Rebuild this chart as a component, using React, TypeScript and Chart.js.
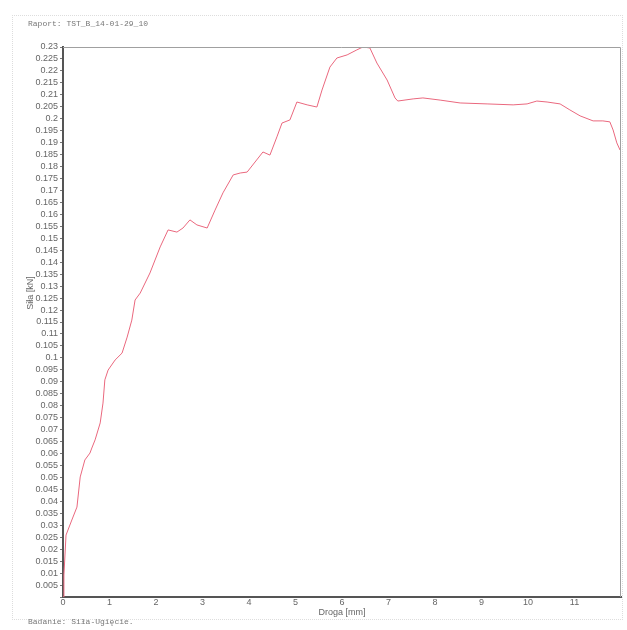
import { useEffect, useRef } from 'react';
import { Chart, registerables } from 'chart.js';

Chart.register(...registerables);

// Displacement [mm] and force [kN] samples of the test run
const distance = [
  0, 0.02, 0.065, 0.19, 0.3, 0.37, 0.47, 0.58, 0.62, 0.69, 0.8, 0.86, 0.9, 0.97,
  1.12, 1.27, 1.38, 1.48, 1.55, 1.66, 1.87, 2.09, 2.26, 2.45, 2.58, 2.73, 2.88,
  3.1, 3.27, 3.44, 3.66, 3.81, 3.96, 4.13, 4.3, 4.45, 4.6, 4.71, 4.88, 5.03,
  5.25, 5.46, 5.57, 5.74, 5.89, 6.11, 6.32, 6.45, 6.6, 6.75, 6.97, 7.14, 7.2,
  7.53, 7.74, 8.11, 8.54, 9.12, 9.68, 9.98, 10.19, 10.41, 10.69, 10.9, 11.12,
  11.4, 11.61, 11.76, 11.83, 11.91, 11.98,
];
const force = [
  0, 0.0092, 0.0259, 0.0322, 0.0376, 0.0502, 0.0573, 0.0602, 0.0623, 0.0657,
  0.0728, 0.0811, 0.0908, 0.0949, 0.0991, 0.102, 0.1087, 0.1158, 0.1242, 0.1271,
  0.1355, 0.1464, 0.1535, 0.1526, 0.1543, 0.1577, 0.1556, 0.1543, 0.1618, 0.169,
  0.1765, 0.1773, 0.1777, 0.1819, 0.1861, 0.1848, 0.1924, 0.1982, 0.1995, 0.207,
  0.2058, 0.2049, 0.212, 0.2216, 0.2254, 0.2267, 0.2288, 0.23, 0.2296, 0.2233,
  0.2162, 0.2087, 0.2074, 0.2083, 0.2087, 0.2078, 0.2066, 0.2062, 0.2058, 0.2062,
  0.2074, 0.207, 0.2062, 0.2037, 0.2012, 0.1991, 0.1991, 0.1987, 0.1953, 0.1899,
  0.1869,
];

const xMax = 12;
const yMax = 0.23;
const yStep = 0.005;

const reportTitle = 'Raport: TST_B_14-01-29_10';
const footerText = 'Badanie: Siła-Ugięcie.';
const xTitle = 'Droga [mm]';
const yTitle = 'Siła [kN]';

// Thin top/right frame lines and the rotated y-axis caption
const framePlugin = {
  id: 'frame',
  afterDraw(chart: any) {
    const { ctx, chartArea: a } = chart;
    ctx.save();
    ctx.strokeStyle = '#a0a0a0';
    ctx.lineWidth = 1;
    ctx.beginPath();
    ctx.moveTo(a.left, a.top + 0.5);
    ctx.lineTo(a.right - 0.5, a.top + 0.5);
    ctx.lineTo(a.right - 0.5, a.bottom);
    ctx.stroke();

    ctx.translate(a.left - 32, a.top + 246);
    ctx.rotate(-Math.PI / 2);
    ctx.font = '9px "Liberation Sans", Arial, sans-serif';
    ctx.fillStyle = '#666';
    ctx.textAlign = 'center';
    ctx.textBaseline = 'middle';
    ctx.fillText(yTitle, 0, 0);
    ctx.restore();
  },
};

export default function App() {
  const canvasRef = useRef<HTMLCanvasElement | null>(null);

  useEffect(() => {
    if (!canvasRef.current) return;
    const tickFont = { family: '"Liberation Sans", Arial, sans-serif', size: 9 };
    const chart = new Chart(canvasRef.current, {
      type: 'line',
      data: {
        datasets: [
          {
            data: distance.map((x, i) => ({ x, y: force[i] })),
            borderColor: 'rgb(234, 104, 126)',
            borderWidth: 1,
            pointRadius: 0,
            tension: 0,
            fill: false,
          },
        ],
      },
      options: {
        animation: false,
        responsive: false,
        layout: { padding: { left: 0, right: 6, top: 47, bottom: 12 } },
        plugins: {
          legend: { display: false },
          tooltip: { enabled: false },
        },
        scales: {
          x: {
            type: 'linear',
            min: 0,
            max: xMax,
            afterFit: (s: any) => {
              s.height = 21;
            },
            border: { display: true, color: '#555', width: 2 },
            grid: { display: false, drawTicks: false },
            ticks: {
              stepSize: 1,
              autoSkip: false,
              maxRotation: 0,
              padding: 0,
              color: '#666',
              font: tickFont,
              callback: (v: any) => (Number(v) >= xMax ? '' : String(v)),
            },
            title: {
              display: true,
              text: xTitle,
              color: '#666',
              font: { ...tickFont, size: 9 },
              padding: 0,
            },
          },
          y: {
            type: 'linear',
            min: 0,
            max: yMax,
            afterFit: (s: any) => {
              s.width = 63;
            },
            border: { display: true, color: '#555', width: 2 },
            grid: {
              drawOnChartArea: false,
              drawTicks: true,
              tickLength: 3,
              color: '#777',
            },
            ticks: {
              stepSize: yStep,
              autoSkip: false,
              padding: 2,
              color: '#666',
              font: tickFont,
              callback: (v: any) => {
                const n = Number(Number(v).toFixed(3));
                return n === 0 ? '' : String(n);
              },
            },
          },
        },
      },
      plugins: [framePlugin],
    });
    return () => chart.destroy();
  }, []);

  const mono = '"Liberation Mono", "DejaVu Sans Mono", monospace';

  return (
    <div
      style={{
        position: 'fixed',
        left: 0,
        top: 0,
        width: 627,
        height: 630,
        background: '#fff',
        overflow: 'hidden',
      }}
    >
      <div
        style={{
          position: 'absolute',
          left: 12,
          top: 15,
          width: 611,
          height: 605,
          border: '1px dotted #ddd',
          boxSizing: 'border-box',
        }}
      />
      <canvas ref={canvasRef} width={627} height={630} style={{ position: 'absolute', left: 0, top: 0 }} />
      <div
        style={{
          position: 'absolute',
          left: 28,
          top: 19,
          font: `8px ${mono}`,
          color: '#777',
          whiteSpace: 'nowrap',
        }}
      >
        {reportTitle}
      </div>
      <div
        style={{
          position: 'absolute',
          left: 28,
          top: 617,
          font: `8px ${mono}`,
          color: '#777',
          whiteSpace: 'nowrap',
        }}
      >
        {footerText}
      </div>
    </div>
  );
}
